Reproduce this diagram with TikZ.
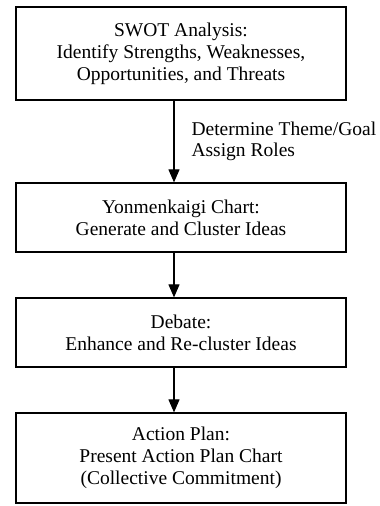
\documentclass[tikz,border=0pt]{standalone}
\usepackage{fontspec}
\setmainfont{Liberation Serif}
\usepackage{tikz}
\usetikzlibrary{arrows.meta, positioning}

\begin{document}
\begin{tikzpicture}[
    stage/.style={draw, line width=1.2pt, minimum width=330pt, align=center, inner sep=0pt, font=\fontsize{19.5}{22}\selectfont},
    flow/.style={-{Triangle[length=13pt, width=11pt]}, line width=1.1pt},
    >=Stealth
]
  \useasboundingbox (0,0) rectangle (380pt,-506pt);

  \node[stage, minimum height=93pt] (swot) at (181pt,-53.5pt) {SWOT Analysis:\\Identify Strengths, Weaknesses,\\Opportunities, and Threats};
  \node[stage, minimum height=69pt] (chart) at (181pt,-217.5pt) {Yonmenkaigi Chart:\\Generate and Cluster Ideas};
  \node[stage, minimum height=69pt] (debate) at (181pt,-332.5pt) {Debate:\\Enhance and Re-cluster Ideas};
  \node[stage, minimum height=90pt] (plan) at (181pt,-458pt) {Action Plan:\\Present Action Plan Chart\\(Collective Commitment)};

  \draw[flow] ([xshift=-7pt]swot.south) -- node[right=17pt, align=left, inner sep=0pt, font=\fontsize{19.5}{21}\selectfont] {Determine Theme/Goal\\Assign Roles} ([xshift=-7pt]chart.north);
  \draw[flow] ([xshift=-7pt]chart.south) -- ([xshift=-7pt]debate.north);
  \draw[flow] ([xshift=-7pt]debate.south) -- ([xshift=-7pt]plan.north);
\end{tikzpicture}
\end{document}
